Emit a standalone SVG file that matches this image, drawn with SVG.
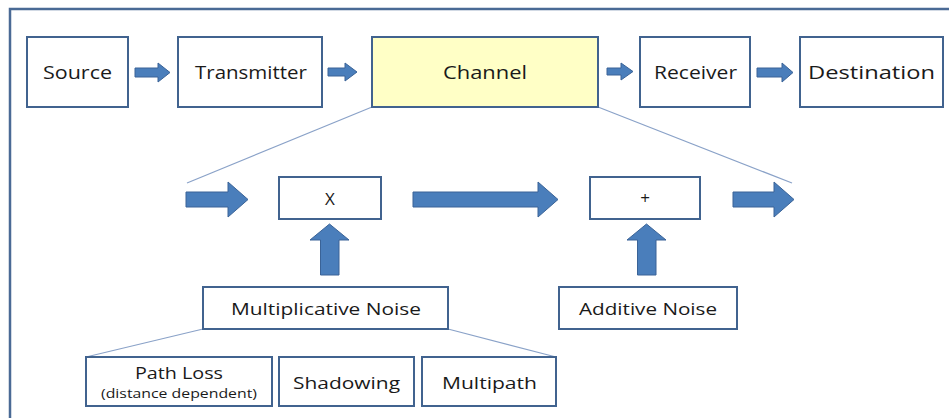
<svg xmlns="http://www.w3.org/2000/svg" width="949" height="418" viewBox="0 0 949 418">
<style>
.box{fill:#ffffff;stroke:#41638f;stroke-width:2}
.ch{fill:#ffffc6;stroke:#41638f;stroke-width:2}
.arr{fill:#4a7ebb;stroke:#3a6397;stroke-width:1}
.thin{stroke:#8aa2c8;stroke-width:1.2;fill:none}
text{font-family:"Open Sans","Liberation Sans",sans-serif;fill:#1a1a1a;text-anchor:middle}
.t{font-size:18px}
.m{font-size:16px}
.s{font-size:12px}
.op{font-size:17px}
</style>
<rect x="0" y="0" width="949" height="418" fill="#ffffff"/>
<rect x="10" y="9" width="960" height="430" fill="none" stroke="#4a6a95" stroke-width="2.5"/>
<g id="connectors">
<path class="arr" d="M135,68H158V63L170,72.5L158,82V77H135Z"/>
<path class="arr" d="M328,68H345V63L357,72L345,81V76H328Z"/>
<path class="arr" d="M607,68H621V63L633,71.5L621,80V75H607Z"/>
<path class="arr" d="M757,68H782V63L793,72.5L782,82V77H757Z"/>
<line class="thin" x1="372" y1="107" x2="187" y2="183"/>
<line class="thin" x1="598" y1="107" x2="792" y2="183"/>
<path class="arr" d="M186,192H228V182L248,199.5L228,217V207H186Z"/>
<path class="arr" d="M413,192H538V182L558,199.5L538,217V207H413Z"/>
<path class="arr" d="M733,192H774V182L794,199.5L774,217V207H733Z"/>
<path class="arr" d="M320.5,275V240H310L329.5,224L349,240H339V275Z"/>
<path class="arr" d="M637.5,275V240H627L646.5,224L666,240H656V275Z"/>
<line class="thin" x1="203" y1="329" x2="86" y2="357"/>
<line class="thin" x1="448" y1="329" x2="556" y2="357"/>
</g>
<g id="source"><rect class="box" x="27" y="37" width="101" height="70"/><text class="t" x="77.5" y="79" textLength="69" lengthAdjust="spacingAndGlyphs">Source</text></g>
<g id="transmitter"><rect class="box" x="178" y="37" width="144" height="70"/><text class="t" x="251" y="79" textLength="112" lengthAdjust="spacingAndGlyphs">Transmitter</text></g>
<g id="channel"><rect class="ch" x="372" y="37" width="226" height="70"/><text class="t" x="485" y="79" textLength="84" lengthAdjust="spacingAndGlyphs">Channel</text></g>
<g id="receiver"><rect class="box" x="640" y="37" width="110" height="70"/><text class="t" x="695.5" y="79" textLength="83" lengthAdjust="spacingAndGlyphs">Receiver</text></g>
<g id="destination"><rect class="box" x="800" y="37" width="143" height="70"/><text class="t" x="871.5" y="79" textLength="127" lengthAdjust="spacingAndGlyphs">Destination</text></g>
<g id="multiply"><rect class="box" x="279" y="177" width="102" height="42"/><text class="op" x="330" y="205">X</text></g>
<g id="add"><rect class="box" x="590" y="177" width="110" height="42"/><text class="op" x="645" y="204">+</text></g>
<g id="multiplicative-noise"><rect class="box" x="203" y="287" width="245" height="42"/><text class="m" x="326" y="315" textLength="190" lengthAdjust="spacingAndGlyphs">Multiplicative Noise</text></g>
<g id="additive-noise"><rect class="box" x="559" y="287" width="178" height="42"/><text class="m" x="648" y="315" textLength="138" lengthAdjust="spacingAndGlyphs">Additive Noise</text></g>
<g id="path-loss"><rect class="box" x="86" y="357" width="186" height="49"/><text class="m" x="179" y="379" textLength="88" lengthAdjust="spacingAndGlyphs">Path Loss</text><text class="s" x="179" y="398" textLength="156" lengthAdjust="spacingAndGlyphs">(distance dependent)</text></g>
<g id="shadowing"><rect class="box" x="279" y="357" width="135" height="49"/><text class="m" x="346.5" y="389" textLength="107" lengthAdjust="spacingAndGlyphs">Shadowing</text></g>
<g id="multipath"><rect class="box" x="422" y="357" width="134" height="49"/><text class="m" x="489.5" y="389" textLength="95" lengthAdjust="spacingAndGlyphs">Multipath</text></g>
</svg>
